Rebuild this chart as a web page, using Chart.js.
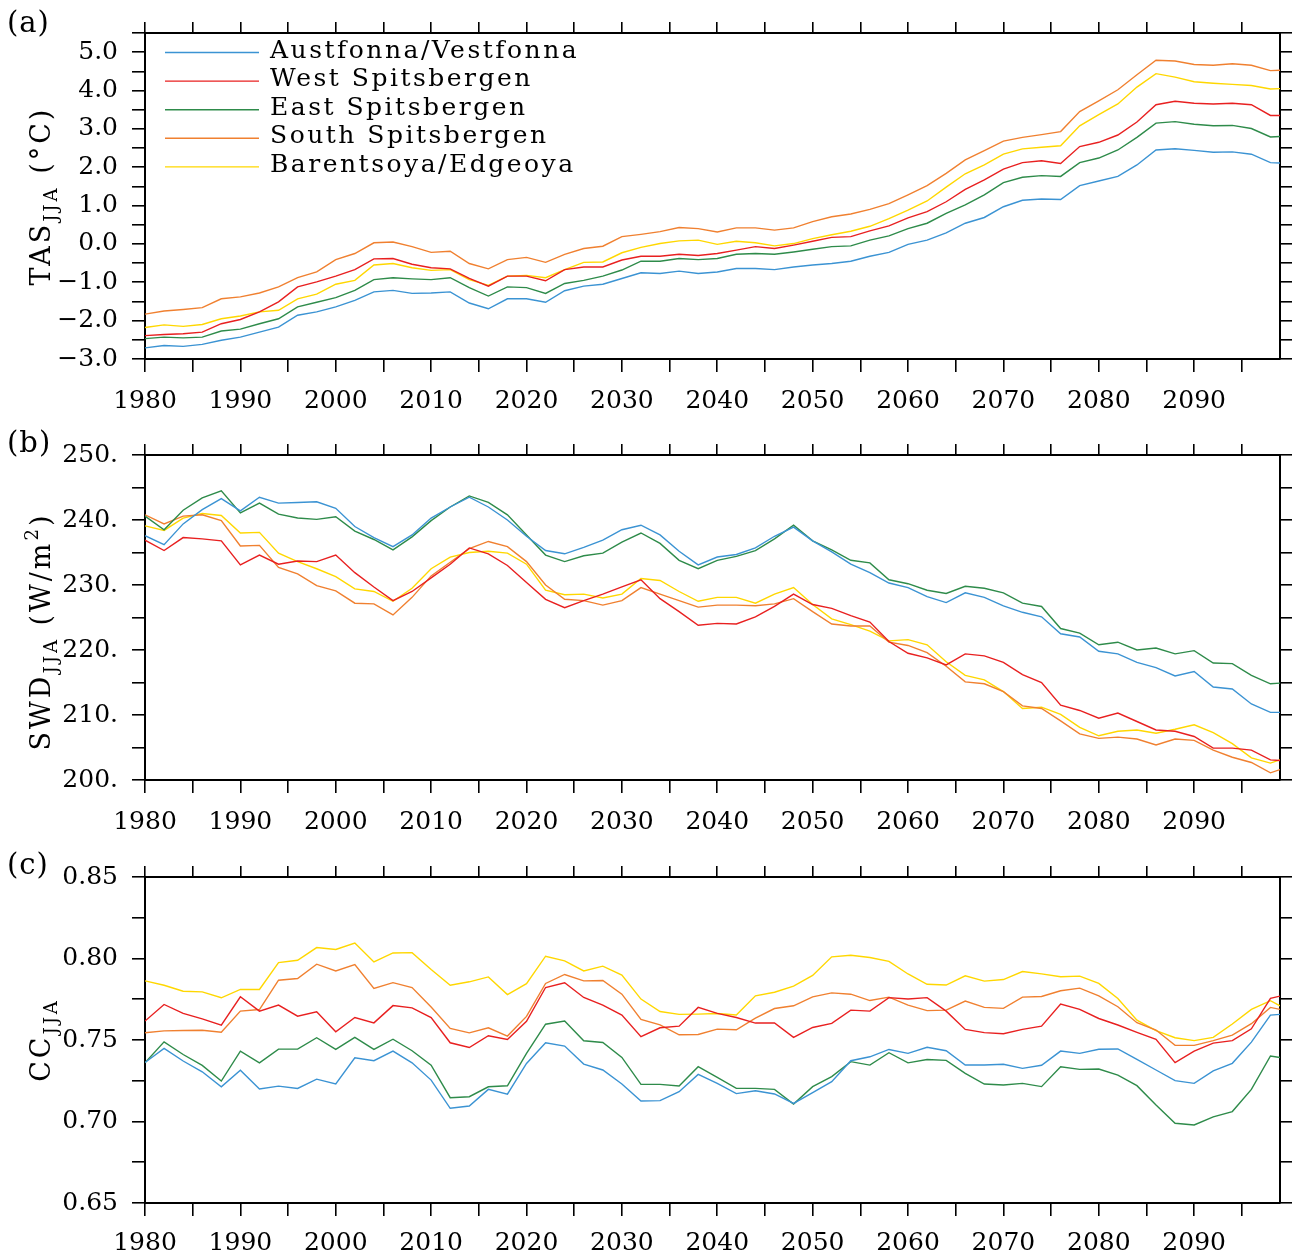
<!DOCTYPE html>
<html>
<head>
<meta charset="utf-8">
<script src="https://cdn.jsdelivr.net/npm/chart.js@4.4.1/dist/chart.umd.min.js"></script>
<style>
  body { margin: 0; background: #fff; }
  #wrap { position: relative; width: 1296px; height: 1257px; }
  canvas { position: absolute; left: 0; }
</style>
</head>
<body>
<div id="wrap">
  <canvas id="panel-a" width="1296" height="420" style="top:0px"></canvas>
  <canvas id="panel-b" width="1296" height="422" style="top:420px"></canvas>
  <canvas id="panel-c" width="1296" height="415" style="top:842px"></canvas>
</div>
<script>
// years sampled every 2 years, plus the final year
const years = [1980,1982,1984,1986,1988,1990,1992,1994,1996,1998,
               2000,2002,2004,2006,2008,2010,2012,2014,2016,2018,
               2020,2022,2024,2026,2028,2030,2032,2034,2036,2038,
               2040,2042,2044,2046,2048,2050,2052,2054,2056,2058,
               2060,2062,2064,2066,2068,2070,2072,2074,2076,2078,
               2080,2082,2084,2086,2088,2090,2092,2094,2096,2098,2099];

const regions = ['Austfonna/Vestfonna', 'West Spitsbergen', 'East Spitsbergen', 'South Spitsbergen', 'Barentsoya/Edgeoya'];
const colors = ['#3b93d3', '#e82020', '#2e8b4a', '#f08030', '#ffd700'];

// (a) near-surface air temperature, JJA
const tasAust = [-2.71,-2.65,-2.67,-2.62,-2.51, -2.43,-2.30,-2.17,-1.86,-1.77,
  -1.64,-1.47,-1.25,-1.21,-1.29, -1.28,-1.25,-1.54,-1.69,-1.43,
  -1.43,-1.52,-1.22,-1.10,-1.05, -0.90,-0.75,-0.77,-0.71,-0.77,
  -0.73,-0.64,-0.64,-0.67,-0.60, -0.55,-0.51,-0.45,-0.32,-0.22,
  -0.01,0.10,0.29,0.54,0.69, 0.97,1.14,1.17,1.16,1.52,
  1.64,1.76,2.06,2.45,2.48, 2.44,2.39,2.40,2.34,2.12, 2.11];
const tasWest = [-2.39,-2.36,-2.34,-2.30,-2.08, -1.97,-1.77,-1.51,-1.12,-0.99,
  -0.84,-0.67,-0.39,-0.38,-0.53, -0.62,-0.65,-0.90,-1.10,-0.84,
  -0.84,-0.96,-0.67,-0.60,-0.60, -0.42,-0.32,-0.32,-0.27,-0.30,
  -0.25,-0.16,-0.07,-0.12,-0.03, 0.07,0.17,0.19,0.34,0.47,
  0.68,0.84,1.10,1.42,1.67, 1.95,2.12,2.17,2.10,2.54,
  2.65,2.84,3.18,3.63,3.72, 3.67,3.65,3.67,3.63,3.35, 3.35];
const tasEast = [-2.47,-2.43,-2.45,-2.43,-2.27, -2.22,-2.08,-1.95,-1.64,-1.52,
  -1.40,-1.21,-0.93,-0.88,-0.91, -0.93,-0.88,-1.14,-1.36,-1.12,
  -1.14,-1.29,-1.03,-0.95,-0.84, -0.68,-0.45,-0.45,-0.38,-0.41,
  -0.38,-0.27,-0.25,-0.27,-0.21, -0.14,-0.07,-0.05,0.10,0.21,
  0.40,0.54,0.80,1.02,1.28, 1.60,1.74,1.78,1.76,2.12,
  2.24,2.45,2.78,3.15,3.19, 3.12,3.08,3.09,3.01,2.79, 2.80];
const tasSouth = [-1.83,-1.75,-1.71,-1.66,-1.43, -1.38,-1.28,-1.12,-0.88,-0.73,
  -0.41,-0.25,0.03,0.05,-0.07, -0.22,-0.19,-0.51,-0.65,-0.41,
  -0.35,-0.48,-0.27,-0.12,-0.06, 0.19,0.25,0.32,0.43,0.40,
  0.31,0.42,0.42,0.36,0.42, 0.58,0.71,0.78,0.90,1.05,
  1.28,1.52,1.84,2.19,2.43, 2.68,2.78,2.85,2.93,3.45,
  3.73,4.02,4.41,4.79,4.77, 4.68,4.66,4.70,4.66,4.52, 4.53];
const tasBarents = [-2.18,-2.11,-2.15,-2.10,-1.95, -1.88,-1.77,-1.73,-1.43,-1.31,
  -1.05,-0.95,-0.55,-0.51,-0.62, -0.69,-0.67,-0.93,-1.08,-0.84,
  -0.82,-0.88,-0.67,-0.48,-0.47, -0.23,-0.09,0.01,0.08,0.10,
  -0.01,0.07,0.03,-0.05,0.01, 0.14,0.24,0.33,0.46,0.66,
  0.88,1.12,1.48,1.83,2.06, 2.34,2.48,2.52,2.56,3.08,
  3.37,3.65,4.09,4.44,4.35, 4.23,4.19,4.16,4.13,4.04, 4.05];

// (b) downward shortwave radiation, JJA
const swdAust = [237.6,236.2,239.4,241.6,243.3, 241.4,243.5,242.6,242.7,242.8,
  241.8,239.0,237.3,235.9,237.7, 240.3,242.0,243.5,242.0,240.0,
  237.5,235.3,234.8,235.8,236.9, 238.5,239.2,237.7,235.2,233.1,
  234.3,234.7,235.7,237.5,238.9, 236.8,235.1,233.2,231.9,230.3,
  229.6,228.2,227.3,228.8,228.1, 226.8,225.8,225.1,222.5,222.0,
  219.8,219.4,218.1,217.3,216.0, 216.7,214.3,214.0,211.7,210.4, 210.4];
const swdWest = [236.9,235.3,237.3,237.1,236.8, 233.1,234.6,233.2,233.7,233.6,
  234.6,231.9,229.7,227.6,229.0, 231.1,233.2,235.7,234.8,233.0,
  230.4,227.8,226.5,227.6,228.6, 229.7,230.8,227.9,225.9,223.8,
  224.1,224.0,225.1,226.7,228.6, 227.0,226.4,225.3,224.3,221.3,
  219.5,218.8,217.7,219.4,219.1, 218.1,216.2,215.0,211.5,210.7,
  209.5,210.3,209.0,207.7,207.5, 206.7,204.9,204.9,204.6,203.1, 203.0];
const swdEast = [240.6,238.5,241.5,243.4,244.5, 241.1,242.6,240.9,240.3,240.1,
  240.5,238.3,237.0,235.4,237.4, 239.9,242.0,243.7,242.7,240.8,
  237.7,234.6,233.6,234.5,234.9, 236.6,238.0,236.4,233.8,232.5,
  233.8,234.4,235.3,237.1,239.2, 236.8,235.4,233.8,233.4,230.8,
  230.2,229.2,228.7,229.8,229.5, 228.8,227.2,226.7,223.3,222.6,
  220.8,221.2,220.0,220.3,219.4, 219.9,218.0,217.9,216.1,214.8, 214.9];
const swdSouth = [240.8,239.4,240.6,240.8,239.9, 236.0,236.1,232.7,231.7,229.9,
  229.1,227.2,227.1,225.4,228.1, 231.4,233.5,235.6,236.7,235.9,
  233.6,230.0,227.8,227.6,226.9, 227.6,229.6,228.6,227.6,226.6,
  226.9,226.9,226.8,227.1,227.9, 225.9,224.0,223.7,223.7,221.2,
  220.7,219.6,217.5,215.1,214.8, 213.6,211.4,211.0,209.1,207.1,
  206.4,206.6,206.3,205.4,206.3, 206.1,204.6,203.5,202.7,201.1, 201.6];
const swdBarents = [239.1,238.4,240.3,241.0,240.7, 238.0,238.1,234.9,233.6,232.5,
  231.3,229.4,229.0,227.5,229.5, 232.5,234.3,235.0,235.2,234.9,
  233.2,229.2,228.5,228.6,228.0, 228.6,231.0,230.7,229.0,227.5,
  228.1,228.1,227.2,228.6,229.6, 227.0,224.8,223.9,222.9,221.4,
  221.6,220.8,218.2,216.1,215.4, 213.6,211.0,211.2,210.1,208.1,
  206.8,207.5,207.7,207.2,207.8, 208.5,207.3,205.6,203.4,202.6, 203.1];

// (c) cloud cover, JJA
const ccAust = [0.7362,0.7448,0.7371,0.7305,0.7213, 0.7315,0.7199,0.7217,0.7203,0.7260,
  0.7230,0.7391,0.7373,0.7432,0.7360, 0.7254,0.7081,0.7095,0.7197,0.7168,
  0.7356,0.7483,0.7463,0.7352,0.7316, 0.7230,0.7126,0.7128,0.7183,0.7289,
  0.7234,0.7171,0.7189,0.7169,0.7111, 0.7177,0.7244,0.7373,0.7397,0.7442,
  0.7418,0.7455,0.7434,0.7347,0.7347, 0.7351,0.7326,0.7345,0.7432,0.7418,
  0.7443,0.7445,0.7381,0.7316,0.7251, 0.7234,0.7310,0.7357,0.7487,0.7653, 0.7657];
const ccWest = [0.7616,0.7718,0.7663,0.7630,0.7591, 0.7765,0.7677,0.7714,0.7646,0.7673,
  0.7550,0.7638,0.7605,0.7711,0.7697, 0.7638,0.7483,0.7454,0.7526,0.7503,
  0.7615,0.7822,0.7851,0.7761,0.7714, 0.7653,0.7520,0.7575,0.7585,0.7700,
  0.7663,0.7638,0.7604,0.7604,0.7516, 0.7577,0.7602,0.7683,0.7677,0.7760,
  0.7752,0.7760,0.7677,0.7565,0.7545, 0.7538,0.7565,0.7585,0.7720,0.7688,
  0.7632,0.7592,0.7547,0.7504,0.7361, 0.7432,0.7481,0.7496,0.7569,0.7755, 0.7769];
const ccEast = [0.7360,0.7489,0.7411,0.7344,0.7248, 0.7432,0.7360,0.7444,0.7444,0.7514,
  0.7442,0.7516,0.7442,0.7505,0.7434, 0.7346,0.7146,0.7152,0.7213,0.7219,
  0.7418,0.7597,0.7616,0.7495,0.7485, 0.7393,0.7228,0.7228,0.7218,0.7336,
  0.7271,0.7203,0.7203,0.7197,0.7107, 0.7214,0.7275,0.7367,0.7346,0.7422,
  0.7360,0.7380,0.7375,0.7295,0.7230, 0.7224,0.7234,0.7214,0.7336,0.7320,
  0.7322,0.7285,0.7220,0.7101,0.6989, 0.6979,0.7028,0.7061,0.7197,0.7402, 0.7393];
const ccSouth = [0.7544,0.7556,0.7558,0.7560,0.7548, 0.7677,0.7687,0.7867,0.7877,0.7965,
  0.7924,0.7963,0.7816,0.7852,0.7822, 0.7703,0.7571,0.7544,0.7575,0.7524,
  0.7645,0.7847,0.7902,0.7863,0.7865, 0.7781,0.7626,0.7593,0.7532,0.7534,
  0.7567,0.7563,0.7634,0.7693,0.7710, 0.7765,0.7789,0.7781,0.7742,0.7763,
  0.7714,0.7680,0.7683,0.7739,0.7700, 0.7694,0.7763,0.7767,0.7802,0.7818,
  0.7771,0.7704,0.7606,0.7561,0.7467, 0.7467,0.7496,0.7530,0.7600,0.7700, 0.7688];
const ccBarents = [0.7863,0.7836,0.7799,0.7795,0.7759, 0.7810,0.7810,0.7975,0.7989,0.8067,
  0.8055,0.8095,0.7979,0.8034,0.8036, 0.7932,0.7836,0.7857,0.7887,0.7779,
  0.7846,0.8014,0.7985,0.7924,0.7953, 0.7898,0.7751,0.7675,0.7657,0.7659,
  0.7663,0.7653,0.7771,0.7793,0.7830, 0.7896,0.8010,0.8020,0.8006,0.7982,
  0.7905,0.7842,0.7837,0.7894,0.7861, 0.7871,0.7920,0.7906,0.7888,0.7892,
  0.7847,0.7755,0.7622,0.7557,0.7514, 0.7496,0.7516,0.7598,0.7688,0.7741, 0.7710];

// axis ticks (every tick gets a mark, only the labelled ones get text)
const xTicks = [1980,1985,1990,1995,2000,2005,2010,2015,2020,2025,2030,2035,2040,
                2045,2050,2055,2060,2065,2070,2075,2080,2085,2090,2095];
const xLabels = [1980,1990,2000,2010,2020,2030,2040,2050,2060,2070,2080,2090];
const tasTicks = [-3,-2.5,-2,-1.5,-1,-0.5,0,0.5,1,1.5,2,2.5,3,3.5,4,4.5,5,5.5];
const tasLabels = [-3,-2,-1,0,1,2,3,4,5];
const swdTicks = [200,205,210,215,220,225,230,235,240,245,250];
const swdLabels = [200,210,220,230,240,250];
const ccTicks = [0.65,0.675,0.70,0.725,0.75,0.775,0.80,0.825,0.85];
const ccLabels = [0.65,0.70,0.75,0.80,0.85];

const FONT = '"DejaVu Serif", "Liberation Serif", serif';
const has = (list, v) => list.some(l => Math.abs(l - v) < 1e-6);

// panel letter, rotated y title and (optionally) the legend
const panelDecor = {
  id: 'panelDecor',
  afterDraw(chart, args, opts) {
    const ctx = chart.ctx, area = chart.chartArea;
    ctx.save();
    ctx.fillStyle = '#000';
    ctx.textBaseline = 'alphabetic';
    ctx.font = '29px ' + FONT;
    ctx.letterSpacing = '1px';
    ctx.fillText(opts.label, 7, 32);

    ctx.save();
    ctx.translate(opts.titleX, (area.top + area.bottom) / 2 + (opts.titleShift || 0));
    ctx.rotate(-Math.PI / 2);
    ctx.letterSpacing = '3px';
    let total = 0;
    opts.title.forEach(p => {
      ctx.font = p.size + 'px ' + FONT;
      total += ctx.measureText(p.text).width;
    });
    let x = -total / 2;
    opts.title.forEach(p => {
      ctx.font = p.size + 'px ' + FONT;
      ctx.fillText(p.text, x, p.dy || 0);
      x += ctx.measureText(p.text).width;
    });
    ctx.restore();

    if (opts.legend) {
      ctx.font = '25px ' + FONT;
      ctx.letterSpacing = '2.5px';
      chart.data.datasets.forEach((ds, i) => {
        const y = 52.5 + i * 28.6;
        ctx.strokeStyle = ds.borderColor;
        ctx.lineWidth = 1.4;
        ctx.beginPath();
        ctx.moveTo(165, y);
        ctx.lineTo(259, y);
        ctx.stroke();
        ctx.fillText(ds.label, 270, y + 5);
      });
    }
    ctx.letterSpacing = '0px';
    ctx.restore();
  }
};

const makePanel = (id, series, yMin, yMax, yTicks, yLabels, fmt, bottomH, topH, xPad, label, title, titleShift, legend) => {
  const ctx = document.getElementById(id);
  if (!ctx) return;
  const tickFont = { family: FONT, size: 25 };
  const gridBase = { drawOnChartArea: false, drawTicks: true, color: '#000', lineWidth: 1.6 };
  const border = { display: true, color: '#000', width: 2 };
  new Chart(ctx, {
    type: 'line',
    data: {
      datasets: series.map((vals, i) => ({
        label: regions[i],
        data: years.map((yr, j) => ({ x: yr, y: vals[j] })),
        borderColor: colors[i], backgroundColor: colors[i],
        borderWidth: 1.4, pointRadius: 0, tension: 0, fill: false
      }))
    },
    options: {
      responsive: false, animation: false, devicePixelRatio: 1,
      layout: { padding: 0 },
      plugins: {
        legend: { display: false }, tooltip: { enabled: false },
        panelDecor: { label: label, title: title, titleX: 50, titleShift: titleShift, legend: legend }
      },
      scales: {
        x: {
          type: 'linear', position: 'bottom', min: 1980, max: 2099,
          afterBuildTicks: s => { s.ticks = xTicks.map(v => ({ value: v })); },
          afterFit: s => { s.height = bottomH; },
          ticks: { autoSkip: false, maxRotation: 0, padding: xPad, color: '#000', font: tickFont,
                   callback: v => has(xLabels, v) ? String(v) : '' },
          grid: Object.assign({ tickLength: 13 }, gridBase), border: border
        },
        xTop: {
          type: 'linear', position: 'top', min: 1980, max: 2099,
          afterBuildTicks: s => { s.ticks = xTicks.map(v => ({ value: v })); },
          afterFit: s => { s.height = topH; },
          ticks: { display: false },
          grid: Object.assign({ tickLength: 11 }, gridBase), border: border
        },
        y: {
          type: 'linear', position: 'left', min: yMin, max: yMax,
          afterBuildTicks: s => { s.ticks = yTicks.map(v => ({ value: v })); },
          afterFit: s => { s.width = 145; },
          ticks: { autoSkip: false, padding: 14, color: '#000', font: tickFont,
                   callback: v => has(yLabels, v) ? fmt(v) : '' },
          grid: Object.assign({ tickLength: 13 }, gridBase), border: border
        },
        yRight: {
          type: 'linear', position: 'right', min: yMin, max: yMax,
          afterBuildTicks: s => { s.ticks = yTicks.map(v => ({ value: v })); },
          afterFit: s => { s.width = 16; },
          ticks: { display: false },
          grid: Object.assign({ tickLength: 12 }, gridBase), border: border
        }
      }
    },
    plugins: [panelDecor]
  });
};

document.addEventListener('DOMContentLoaded', () => {
  makePanel('panel-a', [tasAust, tasWest, tasEast, tasSouth, tasBarents],
    -3, 5.5, tasTicks, tasLabels, v => v.toFixed(1).replace('-', '\u2212'), 61, 33, 14, '(a)',
    [{ text: 'TAS', size: 27 }, { text: 'JJA', size: 18, dy: 7 }, { text: ' (\u00b0C)', size: 27 }], 0, true);
  makePanel('panel-b', [swdAust, swdWest, swdEast, swdSouth, swdBarents],
    200, 250, swdTicks, swdLabels, v => v.toFixed(0) + '.', 62, 35, 14, '(b)',
    [{ text: 'SWD', size: 27 }, { text: 'JJA', size: 18, dy: 7 }, { text: ' (W/m', size: 27 },
     { text: '2', size: 18, dy: -12 }, { text: ')', size: 27 }], 14, false);
  makePanel('panel-c', [ccAust, ccWest, ccEast, ccSouth, ccBarents],
    0.65, 0.85, ccTicks, ccLabels, v => v.toFixed(2), 54, 35, 12, '(c)',
    [{ text: 'CC', size: 27 }, { text: 'JJA', size: 18, dy: 7 }], 0, false);
});
</script>
</body>
</html>
